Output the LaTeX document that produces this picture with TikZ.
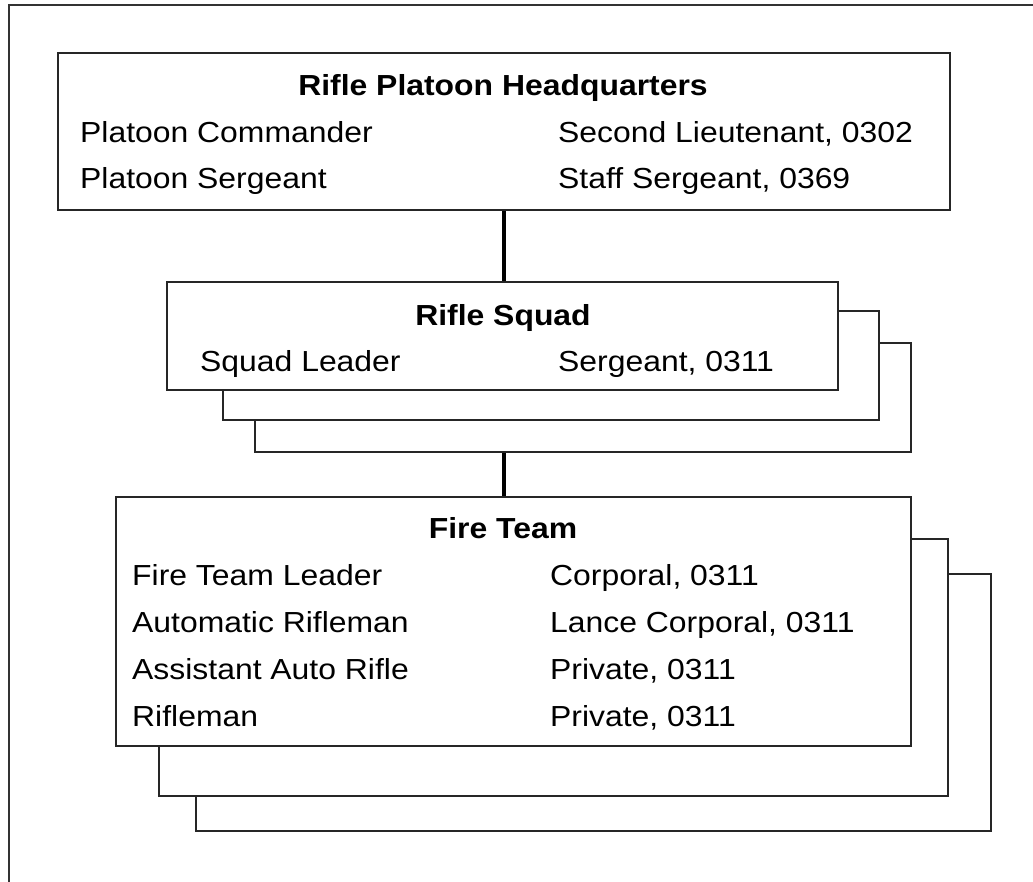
\documentclass[tikz,border=0pt]{standalone}
\usepackage{fontspec}
\setmainfont{Liberation Sans}[FakeStretch=1.1]
\begin{document}
\begin{tikzpicture}[x=1pt,y=-1pt,
  frame/.style={draw=black!80,line width=2.4pt},
  unitbox/.style={draw=black!85,fill=white,line width=2.4pt,inner sep=0pt,anchor=north west},
  link/.style={draw=black,line width=4pt},
  txt/.style={inner sep=0pt,anchor=base west,font=\fontsize{29}{34}\selectfont},
  ttl/.style={inner sep=0pt,anchor=base,font=\fontsize{29}{34}\selectfont\bfseries}]
\useasboundingbox (0,0) rectangle (1033,881);
% outer frame (open on the right and at the bottom)
\draw[frame] (9,890) -- (9,5) -- (1045,5);

% platoon headquarters
\node[unitbox,minimum width=892pt,minimum height=157pt] (hq) at (57,52) {};
\node[ttl] (hqt) at (503,95) {Rifle Platoon Headquarters};
\node[txt] (hqa) at (80,142) {Platoon Commander};
\node[txt] (hqb) at (558,142) {Second Lieutenant, 0302};
\node[txt] (hqc) at (80,188) {Platoon Sergeant};
\node[txt] (hqd) at (558,188) {Staff Sergeant, 0369};

% rifle squads (stacked, back to front)
\node[unitbox,minimum width=656pt,minimum height=109pt] (sq3) at (254,342) {};
\node[unitbox,minimum width=656pt,minimum height=109pt] (sq2) at (222,310) {};
\node[unitbox,minimum width=671pt,minimum height=108pt] (sq1) at (166,281) {};
\node[ttl] (sqt) at (503,325) {Rifle Squad};
\node[txt] (sqa) at (200,371) {Squad Leader};
\node[txt] (sqb) at (558,371) {Sergeant, 0311};

% fire teams (stacked, back to front)
\node[unitbox,minimum width=795pt,minimum height=257pt] (ft3) at (195,573) {};
\node[unitbox,minimum width=789pt,minimum height=257pt] (ft2) at (158,538) {};
\node[unitbox,minimum width=795pt,minimum height=249pt] (ft1) at (115,496) {};
\node[ttl] (ftt) at (503,538) {Fire Team};
\node[txt] (fta) at (132,585) {Fire Team Leader};
\node[txt] (ftb) at (550,585) {Corporal, 0311};
\node[txt] (ftc) at (132,632) {Automatic Rifleman};
\node[txt] (ftd) at (550,632) {Lance Corporal, 0311};
\node[txt] (fte) at (132,679) {Assistant Auto Rifle};
\node[txt] (ftf) at (550,679) {Private, 0311};
\node[txt] (ftg) at (132,726) {Rifleman};
\node[txt] (fth) at (550,726) {Private, 0311};

% chain of command
\draw[link] (hq.south) -- (hq.south |- sq1.north);
\draw[link] (hq.south |- sq3.south) -- (hq.south |- ft1.north);
\end{tikzpicture}
\end{document}
